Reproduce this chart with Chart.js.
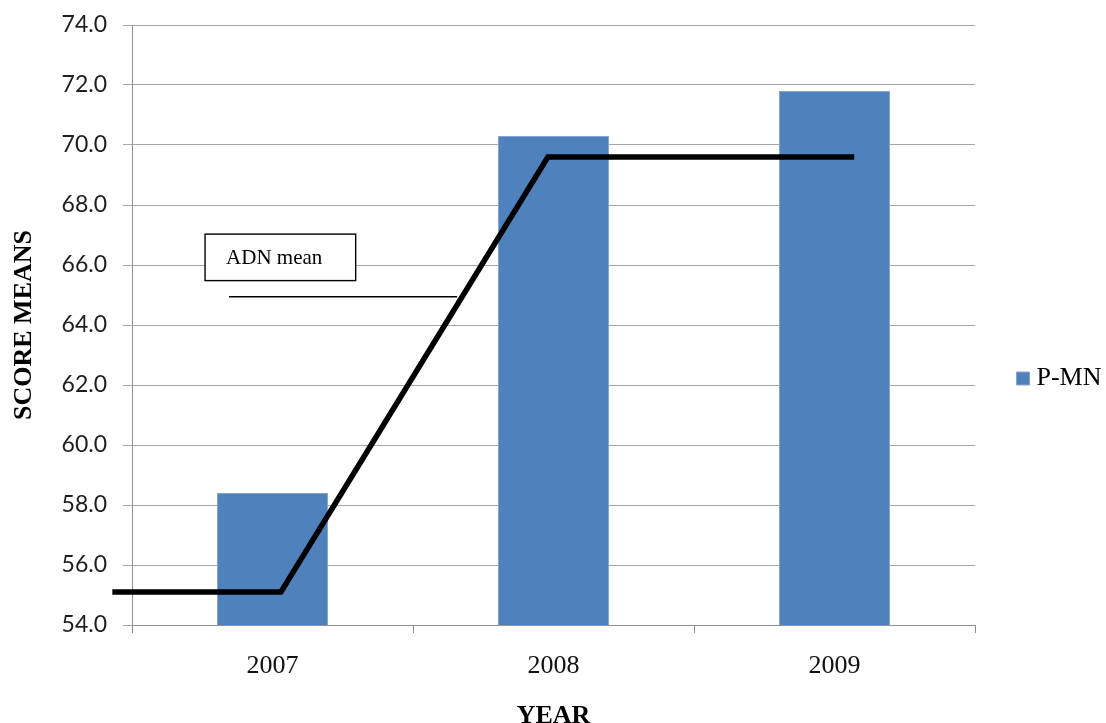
<!DOCTYPE html>
<html>
<head>
<meta charset="utf-8">
<script src="https://cdn.jsdelivr.net/npm/chart.js@4/dist/chart.umd.min.js"></script>
<style>
  html, body { margin: 0; padding: 0; background: #ffffff; }
  #wrap { width: 1106px; height: 723px; }
</style>
</head>
<body>
<div id="wrap"><canvas id="chart" width="1106" height="723"></canvas></div>
<script>
// Categories and values
const years = ['2007', '2008', '2009'];
const pmnMeans = [58.4, 70.3, 71.8];

// ADN mean step line (x in category-index units, y in score units)
const adnPos = [-0.57, 0.03, 0.98, 2.07];
const adnMean = [55.1, 55.1, 69.6, 69.6];

// Y axis ticks
const yTicks = [54, 56, 58, 60, 62, 64, 66, 68, 70, 72, 74];

const seriesName = 'P-MN';
const noteText = 'ADN mean';

// Callout placement, in axis units
const note = {
  box: { x0: -0.24, x1: 0.296, yTop: 67.03, yBottom: 65.48 },
  leader: { x0: -0.155, x1: 0.657, y: 64.94 }
};

const serif = '"Liberation Serif", "Times New Roman", serif';
const sans = 'Lato, "Liberation Sans", Arial, sans-serif';
const gridGray = '#a6a6a6';
const axisGray = '#909090';

const calloutPlugin = {
  id: 'callout',
  afterDatasetsDraw(chart) {
    const xs = chart.scales.xl, ys = chart.scales.y, ctx = chart.ctx;
    const bx0 = xs.getPixelForValue(note.box.x0), bx1 = xs.getPixelForValue(note.box.x1);
    const by0 = ys.getPixelForValue(note.box.yTop), by1 = ys.getPixelForValue(note.box.yBottom);
    ctx.save();
    ctx.fillStyle = '#ffffff';
    ctx.fillRect(bx0, by0, bx1 - bx0, by1 - by0);
    ctx.strokeStyle = '#000000';
    ctx.lineWidth = 1.4;
    ctx.strokeRect(bx0, by0, bx1 - bx0, by1 - by0);
    ctx.fillStyle = '#000000';
    ctx.font = '21px ' + serif;
    ctx.textBaseline = 'middle';
    ctx.textAlign = 'left';
    ctx.fillText(noteText, bx0 + 21, (by0 + by1) / 2 + 1);
    const lx0 = xs.getPixelForValue(note.leader.x0), lx1 = xs.getPixelForValue(note.leader.x1);
    const ly = ys.getPixelForValue(note.leader.y);
    ctx.beginPath();
    ctx.lineWidth = 1.4;
    ctx.moveTo(lx0, ly);
    ctx.lineTo(lx1, ly);
    ctx.stroke();
    ctx.restore();
  }
};

new Chart(document.getElementById('chart'), {
  type: 'bar',
  data: {
    labels: years,
    datasets: [
      {
        type: 'bar',
        label: seriesName,
        data: pmnMeans,
        backgroundColor: '#4f81bd',
        borderColor: '#86a6d2',
        borderWidth: 1,
        barPercentage: 0.395,
        categoryPercentage: 1.0,
        grouped: false,
        order: 1
      },
      {
        type: 'line',
        label: 'ADN mean',
        data: adnPos.map((p, i) => ({ x: p, y: adnMean[i] })),
        xAxisID: 'xl',
        borderColor: '#000000',
        borderWidth: 5.5,
        borderJoinStyle: 'miter',
        pointRadius: 0,
        tension: 0,
        fill: false,
        clip: false,
        order: 0
      }
    ]
  },
  options: {
    responsive: false,
    animation: false,
    events: [],
    layout: { padding: { top: 25, bottom: -9, left: 0, right: 0 } },
    scales: {
      x: {
        type: 'category',
        offset: true,
        grid: {
          offset: true,
          drawOnChartArea: false,
          drawTicks: true,
          tickLength: 8,
          color: axisGray
        },
        border: { display: true, color: axisGray, width: 1 },
        ticks: {
          color: '#111111',
          font: { family: serif, size: 26 },
          padding: 18
        },
        title: {
          display: true,
          text: 'YEAR',
          color: '#000000',
          font: { family: serif, size: 26, weight: 'bold' },
          padding: { top: 0, bottom: 0 }
        },
        afterFit(scale) { scale.height = 107; }
      },
      xl: {
        type: 'linear',
        display: false,
        offset: false,
        min: -0.5,
        max: 2.5
      },
      y: {
        type: 'linear',
        min: 54,
        max: 74,
        afterBuildTicks(scale) { scale.ticks = yTicks.map(v => ({ value: v })); },
        grid: {
          color: gridGray,
          drawTicks: true,
          tickLength: 9
        },
        border: { display: true, color: axisGray, width: 1 },
        ticks: {
          color: '#1e1e1e',
          font: { family: sans, size: 23 },
          padding: 16,
          callback: v => Number(v).toFixed(1)
        },
        title: {
          display: true,
          text: 'SCORE MEANS',
          color: '#000000',
          font: { family: serif, size: 26, weight: 'bold' },
          padding: { top: 8.4, bottom: 0 }
        },
        afterFit(scale) {
          scale.width = 132;
          scale.paddingTop = 0;
          scale.paddingBottom = 0;
        }
      }
    },
    plugins: {
      legend: {
        position: 'right',
        align: 'center',
        maxWidth: 131,
        labels: {
          filter: item => item.datasetIndex === 0,
          usePointStyle: true,
          pointStyle: 'rect',
          boxWidth: 1,
          boxHeight: 13,
          padding: 47.5,
          color: '#000000',
          font: { family: serif, size: 26 }
        }
      },
      tooltip: { enabled: false },
      title: { display: false }
    }
  },
  plugins: [calloutPlugin]
});
</script>
</body>
</html>
